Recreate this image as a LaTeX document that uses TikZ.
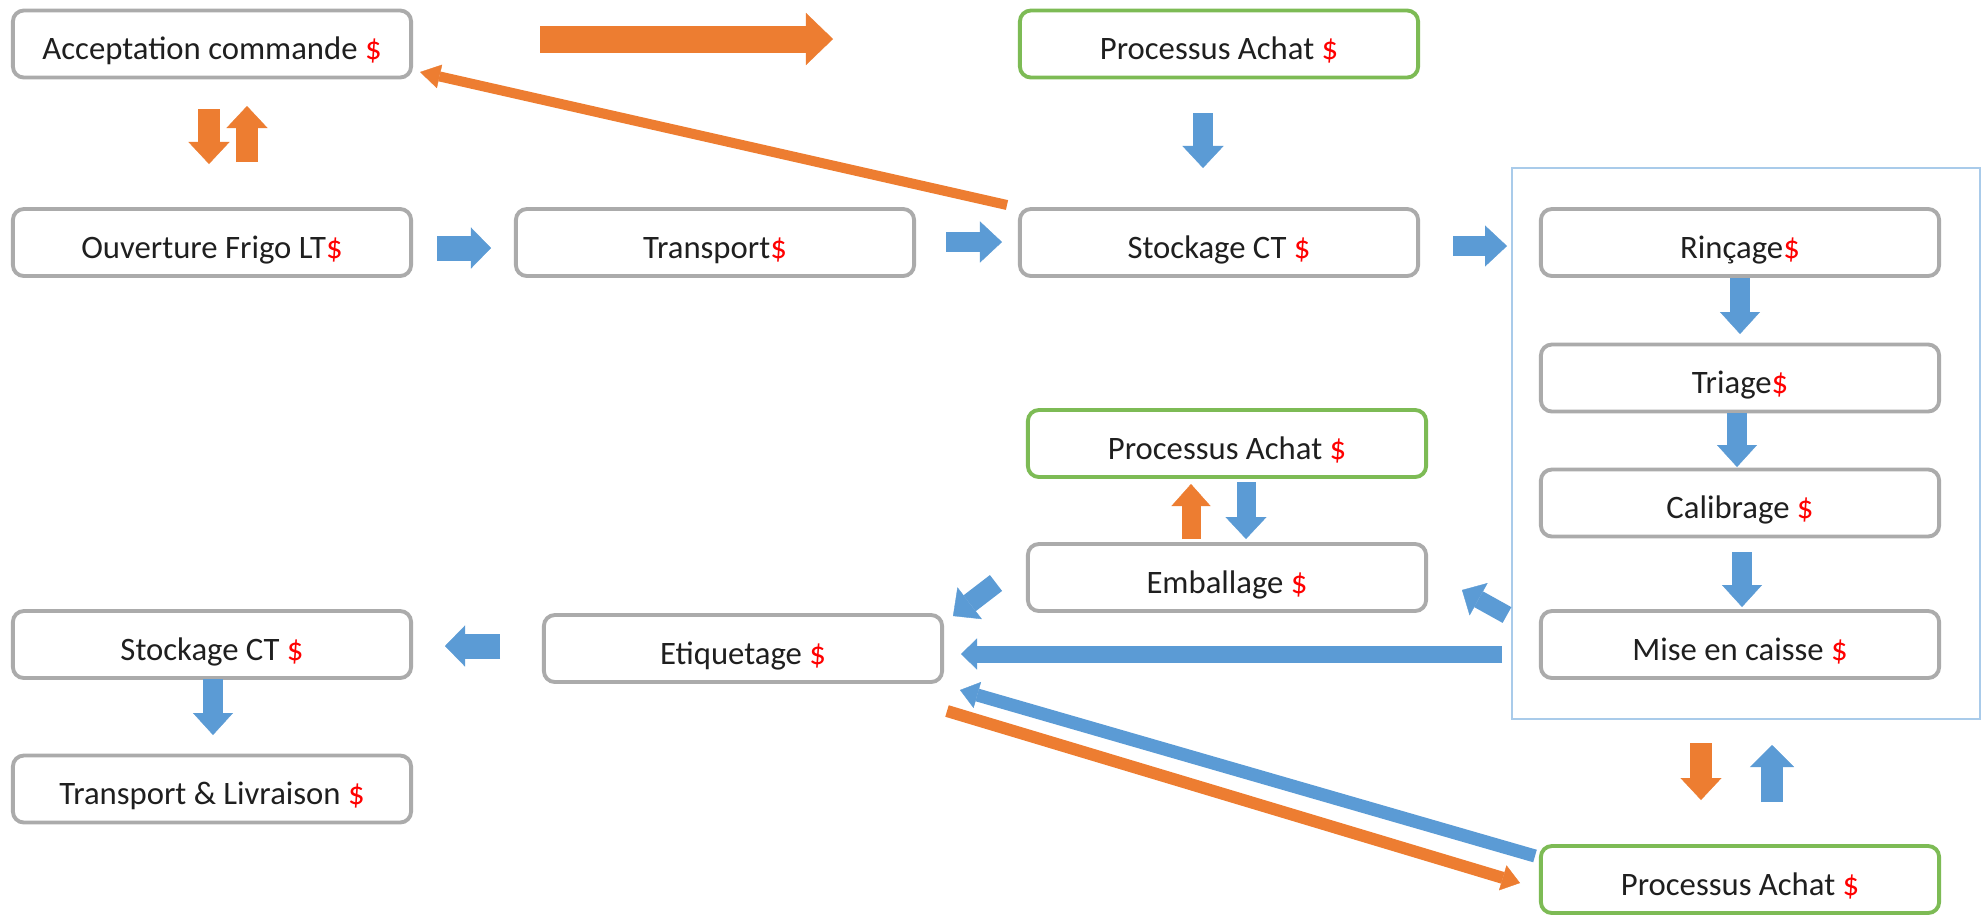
\documentclass[tikz,border=0pt]{standalone}
\usepackage{fontspec}
\setmainfont{Carlito}
\usetikzlibrary{arrows.meta}

\definecolor{flowblue}{HTML}{5B9BD5}
\definecolor{floworange}{HTML}{ED7D31}
\definecolor{boxgray}{HTML}{ABABAB}
\definecolor{buygreen}{HTML}{7DBB55}
\definecolor{groupblue}{HTML}{A9CBEA}
\definecolor{costred}{HTML}{FF0000}

\newcommand{\cost}{\textcolor{costred}{\$}}

\tikzset{
  stepbox/.style={draw=boxgray, line width=1.1pt, rounded corners=0.11cm,
    fill=white, minimum width=3.98cm, minimum height=0.67cm, inner sep=0pt,
    text height=9.5pt, text depth=0.5pt,
    font=\fontsize{9.3}{11}\selectfont, text=black!88},
  buybox/.style={stepbox, draw=buygreen},
  blk/.style n args={3}{line width=#1,
    -{Triangle[width=#2, length=#3, line width=0.1pt]}},
  bluearr/.style={draw=flowblue, color=flowblue},
  orarr/.style={draw=floworange, color=floworange},
}

\begin{document}
\begin{tikzpicture}[x=0.01cm, y=-0.01cm]
\fill[white] (0,0) rectangle (1984,914);
\useasboundingbox (0,0) rectangle (1984,914);

% washing / grading group
\node[draw=groupblue, line width=0.7pt, minimum width=4.68cm, minimum height=5.51cm,
      inner sep=0pt] (grp) at (1746,443.5) {};

% process steps
\node[stepbox] (acc)  at (212,44)    {Acceptation commande \cost};
\node[buybox]  (ach1) at (1219,44)   {Processus Achat \cost};
\node[stepbox] (ouv)  at (212,242.5) {Ouverture Frigo LT\cost};
\node[stepbox] (tra)  at (715,242.5) {Transport\cost};
\node[stepbox] (sto1) at (1219,242.5){Stockage CT \cost};
\node[stepbox] (rin)  at (1740,242.5){Rinçage\cost};
\node[stepbox] (tri)  at (1740,378)  {Triage\cost};
\node[buybox]  (ach2) at (1227,443.5){Processus Achat \cost};
\node[stepbox] (cal)  at (1740,503)  {Calibrage \cost};
\node[stepbox] (emb)  at (1227,577.5){Emballage \cost};
\node[stepbox] (sto2) at (212,644.5) {Stockage CT \cost};
\node[stepbox] (eti)  at (743,648.5) {Etiquetage \cost};
\node[stepbox] (mis)  at (1740,644.5){Mise en caisse \cost};
\node[stepbox] (liv)  at (212,789)   {Transport \& Livraison \cost};
\node[buybox]  (ach3) at (1740,879.5){Processus Achat \cost};

% arrow end points
\coordinate (o1a) at (540,39);   \coordinate (o1b) at (833,39);
\coordinate (o2a) at (1007,205); \coordinate (o2b) at (420,72);
\coordinate (o3a) at (209,109);  \coordinate (o3b) at (209,164);
\coordinate (o4a) at (247,162);  \coordinate (o4b) at (247,106);
\coordinate (b1a) at (437,248);  \coordinate (b1b) at (491,248);
\coordinate (b2a) at (946,242);  \coordinate (b2b) at (1002,242);
\coordinate (b3a) at (1453,246); \coordinate (b3b) at (1507,246);
\coordinate (b4a) at (1203,113); \coordinate (b4b) at (1203,168);
\coordinate (b5a) at (1740,278); \coordinate (b5b) at (1740,334);
\coordinate (b6a) at (1737,413); \coordinate (b6b) at (1737,467);
\coordinate (b7a) at (1742,552); \coordinate (b7b) at (1742,607);
\coordinate (b8a) at (1507,615); \coordinate (b8b) at (1462,590);
\coordinate (b9a) at (1502,654); \coordinate (b9b) at (961,654);
\coordinate (bAa) at (996,583);  \coordinate (bAb) at (953,616);
\coordinate (o5a) at (1191,539); \coordinate (o5b) at (1191,484);
\coordinate (bBa) at (1246,482); \coordinate (bBb) at (1246,539);
\coordinate (bCa) at (500,646);  \coordinate (bCb) at (445,646);
\coordinate (bDa) at (213,679);  \coordinate (bDb) at (213,735);
\coordinate (o6a) at (1701,743); \coordinate (o6b) at (1701,800);
\coordinate (bEa) at (1772,802); \coordinate (bEb) at (1772,745);
\coordinate (bFa) at (1535,856); \coordinate (bFb) at (960,690);
\coordinate (o7a) at (947,711);  \coordinate (o7b) at (1520,883);

% orange flows
\draw[orarr, blk={0.27cm}{0.52cm}{0.27cm}] (o1a) -- (o1b);
\draw[orarr, blk={0.10cm}{0.24cm}{0.20cm}] (o2a) -- (o2b);
\draw[orarr, blk={0.21cm}{0.41cm}{0.22cm}] (o3a) -- (o3b);
\draw[orarr, blk={0.21cm}{0.41cm}{0.22cm}] (o4a) -- (o4b);
\draw[orarr, blk={0.19cm}{0.39cm}{0.22cm}] (o5a) -- (o5b);
\draw[orarr, blk={0.22cm}{0.41cm}{0.22cm}] (o6a) -- (o6b);
\draw[orarr, blk={0.12cm}{0.26cm}{0.18cm}] (o7a) -- (o7b);

% blue flows
\draw[bluearr, blk={0.25cm}{0.41cm}{0.20cm}] (b1a) -- (b1b);
\draw[bluearr, blk={0.20cm}{0.41cm}{0.22cm}] (b2a) -- (b2b);
\draw[bluearr, blk={0.20cm}{0.41cm}{0.22cm}] (b3a) -- (b3b);
\draw[bluearr, blk={0.20cm}{0.41cm}{0.22cm}] (b4a) -- (b4b);
\draw[bluearr, blk={0.20cm}{0.40cm}{0.22cm}] (b5a) -- (b5b);
\draw[bluearr, blk={0.20cm}{0.40cm}{0.22cm}] (b6a) -- (b6b);
\draw[bluearr, blk={0.20cm}{0.40cm}{0.22cm}] (b7a) -- (b7b);
\draw[bluearr, blk={0.18cm}{0.37cm}{0.19cm}] (b8a) -- (b8b);
\draw[bluearr, blk={0.17cm}{0.31cm}{0.16cm}] (b9a) -- (b9b);
\draw[bluearr, blk={0.20cm}{0.40cm}{0.21cm}] (bAa) -- (bAb);
\draw[bluearr, blk={0.19cm}{0.41cm}{0.22cm}] (bBa) -- (bBb);
\draw[bluearr, blk={0.25cm}{0.41cm}{0.20cm}] (bCa) -- (bCb);
\draw[bluearr, blk={0.20cm}{0.40cm}{0.22cm}] (bDa) -- (bDb);
\draw[bluearr, blk={0.22cm}{0.44cm}{0.22cm}] (bEa) -- (bEb);
\draw[bluearr, blk={0.13cm}{0.27cm}{0.18cm}] (bFa) -- (bFb);
\end{tikzpicture}
\end{document}
